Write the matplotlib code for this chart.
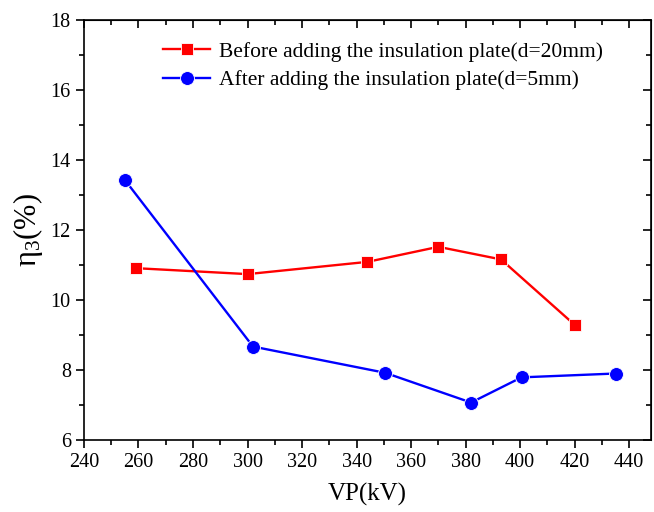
import matplotlib
matplotlib.use('Agg')
import matplotlib.pyplot as plt
from matplotlib.ticker import MultipleLocator

plt.rcParams['font.family'] = ['Liberation Serif', 'DejaVu Serif']
plt.rcParams['mathtext.fontset'] = 'custom'
plt.rcParams['mathtext.rm'] = 'Liberation Serif'
plt.rcParams['mathtext.it'] = 'Liberation Serif:italic'

# data
vp_before = [259, 300, 344, 370, 393, 420]
eta_before = [10.91, 10.74, 11.09, 11.52, 11.16, 9.29]
vp_after = [255, 302, 350.5, 382, 400.5, 435]
eta_after = [13.43, 8.67, 7.92, 7.07, 7.79, 7.9]

label_before = 'Before adding the insulation plate(d=20mm)'
label_after = 'After adding the insulation plate(d=5mm)'

fig = plt.figure(figsize=(6.54, 5.12), dpi=100)
ax = fig.add_axes([0.1284, 0.1406, 0.8670, 0.8203])

ax.plot(vp_before, eta_before, color='#ff0000', lw=1.7, marker='s',
        ms=9, mec='white', mew=0.6, label=label_before)
ax.plot(vp_after, eta_after, color='#0000ff', lw=1.7, marker='o',
        ms=10, mec='white', mew=0.6, label=label_after)

ax.set_xlim(240, 448)
ax.set_ylim(6, 18)
ax.xaxis.set_major_locator(MultipleLocator(20))
ax.xaxis.set_minor_locator(MultipleLocator(10))
ax.yaxis.set_major_locator(MultipleLocator(2))
ax.yaxis.set_minor_locator(MultipleLocator(1))

ax.tick_params(which='both', direction='out', width=1.2, labelsize=14.5,
               top=False, right=False)
ax.tick_params(which='major', length=6)
ax.tick_params(which='minor', length=3.5)
for s in ax.spines.values():
    s.set_linewidth(1.2)

# mirrored inward ticks on top and right
sec_x = ax.secondary_xaxis('top')
sec_x.xaxis.set_major_locator(MultipleLocator(20))
sec_x.xaxis.set_minor_locator(MultipleLocator(10))
sec_x.tick_params(which='both', direction='in', width=1.2, labeltop=False)
sec_x.tick_params(which='major', length=6)
sec_x.tick_params(which='minor', length=3.5)
sec_y = ax.secondary_yaxis('right')
sec_y.yaxis.set_major_locator(MultipleLocator(2))
sec_y.yaxis.set_minor_locator(MultipleLocator(1))
sec_y.tick_params(which='both', direction='in', width=1.2, labelright=False)
sec_y.tick_params(which='major', length=6)
sec_y.tick_params(which='minor', length=3.5)

ax.set_xlabel('VP(kV)', fontsize=18, labelpad=8)
ax.set_ylabel('η$_3$(%)', fontsize=22, labelpad=4)

ax.legend(loc='upper left', bbox_to_anchor=(0.105, 0.995), frameon=False,
          fontsize=15.5, handlelength=2.2, handletextpad=0.4,
          labelspacing=0.4)

fig.savefig('out.png', dpi=100)
